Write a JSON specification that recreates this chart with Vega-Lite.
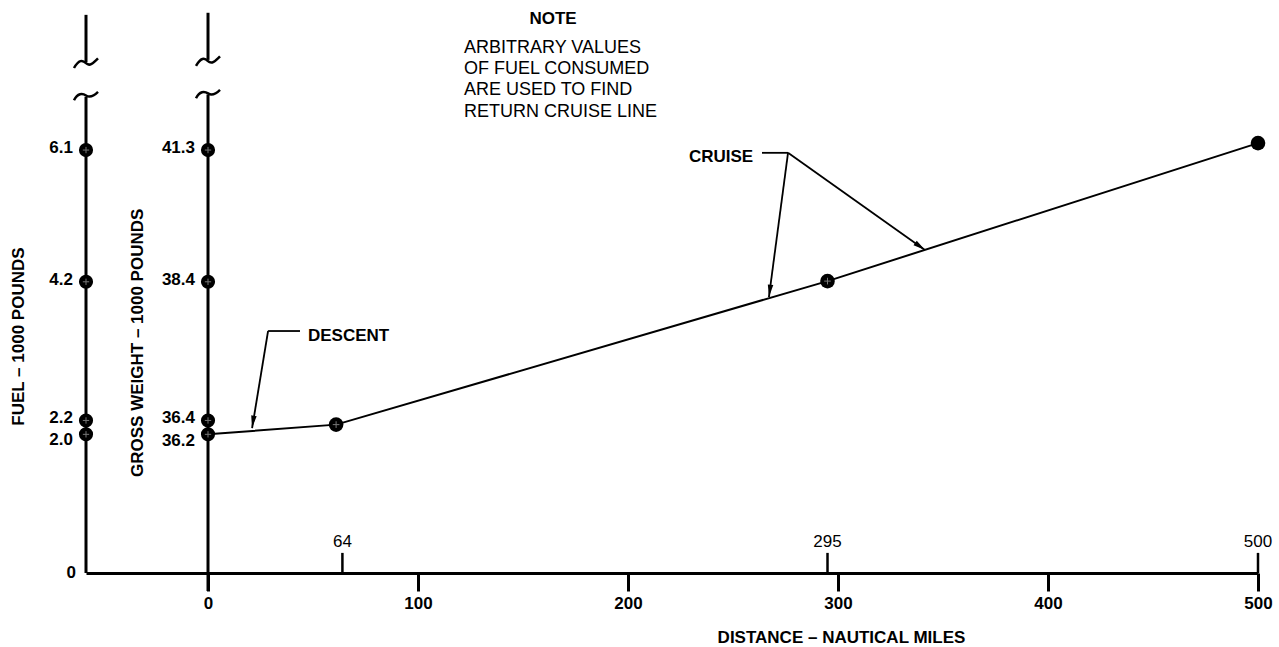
{
  "$schema": "https://vega.github.io/schema/vega-lite/v6.json",
  "width": 1172,
  "height": 563,
  "autosize": {"type": "none"},
  "padding": {"left": 86, "top": 10, "right": 21, "bottom": 74},
  "background": "white",
  "config": {
    "view": {"stroke": null},
    "font": "Liberation Sans",
    "text": {"font": "Liberation Sans", "fontWeight": "bold", "fontSize": 17, "color": "black"},
    "axisY": {"disable": true}
  },
  "datasets": {
    "route": [
      {"distance": 0, "fuel": 2.0},
      {"distance": 61, "fuel": 2.14},
      {"distance": 295, "fuel": 4.21},
      {"distance": 500, "fuel": 6.2}
    ],
    "scalePoints": [
      {"fuel": 6.1, "gw": 41.3, "group": "upper"},
      {"fuel": 4.2, "gw": 38.4, "group": "upper"},
      {"fuel": 2.2, "gw": 36.4, "group": "upper"},
      {"fuel": 2.0, "gw": 36.2, "group": "lower"}
    ],
    "axes": [
      {"distance": -58.1, "top": 8.05, "breakA": 7.37, "breakB": 6.87, "bottom": 0},
      {"distance": 0, "top": 8.08, "breakA": 7.4, "breakB": 6.9, "bottom": -0.26}
    ],
    "marked": [
      {"distance": 64, "label": "64"},
      {"distance": 295, "label": "295"},
      {"distance": 500, "label": "500"}
    ],
    "leaders": [
      {"distance": 43.8, "fuel": 3.49, "distance2": 28.6, "fuel2": 3.49},
      {"distance": 28.6, "fuel": 3.49, "distance2": 21.0, "fuel2": 2.09},
      {"distance": 263.8, "fuel": 6.06, "distance2": 276.2, "fuel2": 6.06},
      {"distance": 276.2, "fuel": 6.06, "distance2": 267.1, "fuel2": 3.98},
      {"distance": 276.2, "fuel": 6.06, "distance2": 341.4, "fuel2": 4.66}
    ],
    "note": [
      {"distance": 121.9, "fuel": 7.5, "text": "ARBITRARY VALUES"},
      {"distance": 121.9, "fuel": 7.19, "text": "OF FUEL CONSUMED"},
      {"distance": 121.9, "fuel": 6.89, "text": "ARE USED TO FIND"},
      {"distance": 121.9, "fuel": 6.58, "text": "RETURN CRUISE LINE"}
    ]
  },
  "layer": [
    {
      "data": {"name": "route"},
      "mark": {"type": "line", "color": "black", "strokeWidth": 2},
      "encoding": {
        "x": {
          "field": "distance", "type": "quantitative",
          "scale": {"domain": [-58.1, 500], "nice": false, "zero": false},
          "axis": {
            "values": [0, 100, 200, 300, 400, 500],
            "title": "DISTANCE – NAUTICAL MILES",
            "grid": false,
            "domainColor": "black", "domainWidth": 3,
            "tickColor": "black", "tickWidth": 3, "tickSize": 18,
            "labelPadding": 4, "labelFont": "Liberation Sans", "labelFontWeight": "bold",
            "labelFontSize": 17, "labelColor": "black", "labelFlush": false, "labelOverlap": false,
            "titleFont": "Liberation Sans", "titleFontWeight": "bold", "titleFontSize": 17,
            "titleColor": "black", "titleX": 755, "titleY": 69, "titleAlign": "center",
            "titleBaseline": "alphabetic"
          }
        },
        "y": {
          "field": "fuel", "type": "quantitative",
          "scale": {"domain": [0, 8.12], "nice": false, "zero": false},
          "axis": null
        }
      }
    },
    {
      "data": {"name": "route"},
      "transform": [{"filter": "datum.distance > 0"}],
      "mark": {"type": "point", "shape": "circle", "filled": true, "color": "black", "size": 215, "opacity": 1},
      "encoding": {
        "x": {"field": "distance", "type": "quantitative"},
        "y": {"field": "fuel", "type": "quantitative", "axis": null}
      }
    },
    {
      "data": {"name": "route"},
      "transform": [{"filter": "datum.distance > 0 && datum.distance < 400"}],
      "mark": {"type": "point", "shape": "M -1 0 L 1 0 M 0 -1 L 0 1", "filled": false, "stroke": "#777777", "strokeWidth": 1, "size": 45, "opacity": 1},
      "encoding": {
        "x": {"field": "distance", "type": "quantitative"},
        "y": {"field": "fuel", "type": "quantitative", "axis": null}
      }
    },
    {
      "data": {"name": "axes"},
      "mark": {"type": "rule", "color": "black", "strokeWidth": 3},
      "encoding": {
        "x": {"field": "distance", "type": "quantitative"},
        "y": {"field": "top", "type": "quantitative", "axis": null},
        "y2": {"field": "breakA"}
      }
    },
    {
      "data": {"name": "axes"},
      "mark": {"type": "rule", "color": "black", "strokeWidth": 3},
      "encoding": {
        "x": {"field": "distance", "type": "quantitative"},
        "y": {"field": "breakB", "type": "quantitative", "axis": null},
        "y2": {"field": "bottom"}
      }
    },
    {
      "data": {"name": "axes"},
      "mark": {"type": "point", "shape": "M -1 0.5 C -0.6 -0.2 -0.3 -0.2 0 0.1 C 0.3 0.4 0.6 0.1 1 -0.3", "filled": false, "stroke": "black", "strokeWidth": 2.5, "size": 576, "opacity": 1},
      "encoding": {
        "x": {"field": "distance", "type": "quantitative"},
        "y": {"field": "breakA", "type": "quantitative", "axis": null}
      }
    },
    {
      "data": {"name": "axes"},
      "mark": {"type": "point", "shape": "M -1 0.3 C -0.7 -0.3 -0.3 -0.3 0 -0.1 C 0.3 0.1 0.6 0 1 -0.4", "filled": false, "stroke": "black", "strokeWidth": 2.5, "size": 576, "opacity": 1},
      "encoding": {
        "x": {"field": "distance", "type": "quantitative"},
        "y": {"field": "breakB", "type": "quantitative", "axis": null}
      }
    },
    {
      "data": {"name": "scalePoints"},
      "mark": {"type": "point", "shape": "circle", "filled": true, "color": "black", "size": 200, "opacity": 1},
      "encoding": {
        "x": {"datum": -58.1, "type": "quantitative"},
        "y": {"field": "fuel", "type": "quantitative", "axis": null}
      }
    },
    {
      "data": {"name": "scalePoints"},
      "mark": {"type": "point", "shape": "circle", "filled": true, "color": "black", "size": 200, "opacity": 1},
      "encoding": {
        "x": {"datum": 0, "type": "quantitative"},
        "y": {"field": "fuel", "type": "quantitative", "axis": null}
      }
    },
    {
      "data": {"name": "scalePoints"},
      "mark": {"type": "point", "shape": "M -1 0 L 1 0 M 0 -1 L 0 1", "filled": false, "stroke": "#777777", "strokeWidth": 1, "size": 40, "opacity": 1},
      "encoding": {
        "x": {"datum": -58.1, "type": "quantitative"},
        "y": {"field": "fuel", "type": "quantitative", "axis": null}
      }
    },
    {
      "data": {"name": "scalePoints"},
      "mark": {"type": "point", "shape": "M -1 0 L 1 0 M 0 -1 L 0 1", "filled": false, "stroke": "#777777", "strokeWidth": 1, "size": 40, "opacity": 1},
      "encoding": {
        "x": {"datum": 0, "type": "quantitative"},
        "y": {"field": "fuel", "type": "quantitative", "axis": null}
      }
    },
    {
      "data": {"name": "scalePoints"},
      "transform": [{"filter": "datum.group == 'upper'"}],
      "mark": {"type": "text", "align": "right", "baseline": "middle", "dx": -13, "dy": -2},
      "encoding": {
        "x": {"datum": -58.1, "type": "quantitative"},
        "y": {"field": "fuel", "type": "quantitative", "axis": null},
        "text": {"field": "fuel", "type": "quantitative", "format": ".1f"}
      }
    },
    {
      "data": {"name": "scalePoints"},
      "transform": [{"filter": "datum.group == 'lower'"}],
      "mark": {"type": "text", "align": "right", "baseline": "middle", "dx": -13, "dy": 6},
      "encoding": {
        "x": {"datum": -58.1, "type": "quantitative"},
        "y": {"field": "fuel", "type": "quantitative", "axis": null},
        "text": {"field": "fuel", "type": "quantitative", "format": ".1f"}
      }
    },
    {
      "data": {"name": "scalePoints"},
      "transform": [{"filter": "datum.group == 'upper'"}],
      "mark": {"type": "text", "align": "right", "baseline": "middle", "dx": -13, "dy": -2},
      "encoding": {
        "x": {"datum": 0, "type": "quantitative"},
        "y": {"field": "fuel", "type": "quantitative", "axis": null},
        "text": {"field": "gw", "type": "quantitative", "format": ".1f"}
      }
    },
    {
      "data": {"name": "scalePoints"},
      "transform": [{"filter": "datum.group == 'lower'"}],
      "mark": {"type": "text", "align": "right", "baseline": "middle", "dx": -13, "dy": 7},
      "encoding": {
        "x": {"datum": 0, "type": "quantitative"},
        "y": {"field": "fuel", "type": "quantitative", "axis": null},
        "text": {"field": "gw", "type": "quantitative", "format": ".1f"}
      }
    },
    {
      "data": {"values": [{}]},
      "mark": {"type": "text", "align": "right", "baseline": "middle", "dx": -10, "text": "0"},
      "encoding": {
        "x": {"datum": -58.1, "type": "quantitative"},
        "y": {"datum": 0, "type": "quantitative", "axis": null}
      }
    },
    {
      "data": {"values": [{}]},
      "mark": {"type": "text", "align": "center", "baseline": "middle", "angle": 270, "text": "FUEL – 1000 POUNDS"},
      "encoding": {
        "x": {"datum": -90, "type": "quantitative"},
        "y": {"datum": 3.41, "type": "quantitative", "axis": null}
      }
    },
    {
      "data": {"values": [{}]},
      "mark": {"type": "text", "align": "center", "baseline": "middle", "angle": 270, "text": "GROSS WEIGHT – 1000 POUNDS"},
      "encoding": {
        "x": {"datum": -33.3, "type": "quantitative"},
        "y": {"datum": 3.32, "type": "quantitative", "axis": null}
      }
    },
    {
      "data": {"name": "marked"},
      "mark": {"type": "rule", "color": "black", "strokeWidth": 2.5},
      "encoding": {
        "x": {"field": "distance", "type": "quantitative"},
        "y": {"datum": 0, "type": "quantitative", "axis": null},
        "y2": {"datum": 0.29}
      }
    },
    {
      "data": {"name": "marked"},
      "mark": {"type": "text", "align": "center", "baseline": "middle", "fontWeight": "normal", "fontSize": 17},
      "encoding": {
        "x": {"field": "distance", "type": "quantitative"},
        "y": {"datum": 0.45, "type": "quantitative", "axis": null},
        "text": {"field": "label"}
      }
    },
    {
      "data": {"name": "leaders"},
      "mark": {"type": "rule", "color": "black", "strokeWidth": 1.8},
      "encoding": {
        "x": {"field": "distance", "type": "quantitative"},
        "y": {"field": "fuel", "type": "quantitative", "axis": null},
        "x2": {"field": "distance2"},
        "y2": {"field": "fuel2"}
      }
    },
    {
      "data": {"values": [{"distance": 21.4, "fuel": 2.18}]},
      "mark": {"type": "point", "shape": "M -0.45 -1 L 0.45 -1 L 0 1 Z", "filled": true, "color": "black", "size": 150, "angle": 9.4, "opacity": 1},
      "encoding": {
        "x": {"field": "distance", "type": "quantitative"},
        "y": {"field": "fuel", "type": "quantitative", "axis": null}
      }
    },
    {
      "data": {"values": [{"distance": 267.5, "fuel": 4.07}]},
      "mark": {"type": "point", "shape": "M -0.45 -1 L 0.45 -1 L 0 1 Z", "filled": true, "color": "black", "size": 150, "angle": 7.5, "opacity": 1},
      "encoding": {
        "x": {"field": "distance", "type": "quantitative"},
        "y": {"field": "fuel", "type": "quantitative", "axis": null}
      }
    },
    {
      "data": {"values": [{"distance": 339.1, "fuel": 4.71}]},
      "mark": {"type": "point", "shape": "M -0.45 -1 L 0.45 -1 L 0 1 Z", "filled": true, "color": "black", "size": 150, "angle": -54.6, "opacity": 1},
      "encoding": {
        "x": {"field": "distance", "type": "quantitative"},
        "y": {"field": "fuel", "type": "quantitative", "axis": null}
      }
    },
    {
      "data": {"name": "note"},
      "mark": {"type": "text", "align": "left", "baseline": "alphabetic", "fontSize": 18, "fontWeight": "normal"},
      "encoding": {
        "x": {"field": "distance", "type": "quantitative"},
        "y": {"field": "fuel", "type": "quantitative", "axis": null},
        "text": {"field": "text"}
      }
    },
    {
      "data": {"values": [{}]},
      "mark": {"type": "text", "align": "center", "baseline": "alphabetic", "text": "NOTE"},
      "encoding": {
        "x": {"datum": 164.3, "type": "quantitative"},
        "y": {"datum": 7.92, "type": "quantitative", "axis": null}
      }
    },
    {
      "data": {"values": [{}]},
      "mark": {"type": "text", "align": "left", "baseline": "alphabetic", "text": "DESCENT"},
      "encoding": {
        "x": {"datum": 47.6, "type": "quantitative"},
        "y": {"datum": 3.35, "type": "quantitative", "axis": null}
      }
    },
    {
      "data": {"values": [{}]},
      "mark": {"type": "text", "align": "left", "baseline": "alphabetic", "text": "CRUISE"},
      "encoding": {
        "x": {"datum": 229.0, "type": "quantitative"},
        "y": {"datum": 5.93, "type": "quantitative", "axis": null}
      }
    }
  ]
}
